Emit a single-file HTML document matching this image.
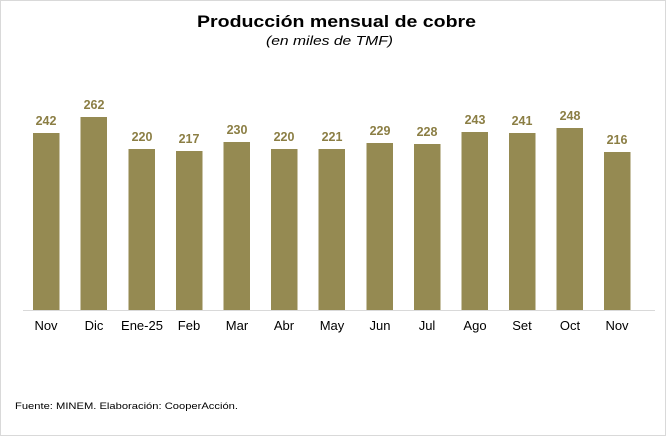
<!DOCTYPE html>
<html><head><meta charset="utf-8"><style>
body{margin:0;background:#fff}
svg text{font-family:"Liberation Sans","DejaVu Sans",sans-serif}
</style></head><body>
<svg width="666" height="436" viewBox="0 0 666 436" xmlns="http://www.w3.org/2000/svg">
<rect x="0.5" y="0.5" width="665" height="435" fill="#fff" stroke="#d9d9d9"/>
<text x="197" y="27" font-size="17" font-weight="bold" fill="#000" textLength="279" lengthAdjust="spacingAndGlyphs">Producción mensual de cobre</text>
<text x="266" y="45" font-size="13" font-style="italic" fill="#000" textLength="127" lengthAdjust="spacingAndGlyphs">(en miles de TMF)</text>
<line x1="23" y1="310.5" x2="655" y2="310.5" stroke="#d9d9d9" stroke-width="1"/>
<g fill="#958a52">
<rect x="33" y="133" width="26.5" height="177"/>
<rect x="80.5" y="117" width="26.5" height="193"/>
<rect x="128.5" y="149" width="26.5" height="161"/>
<rect x="176" y="151" width="26.5" height="159"/>
<rect x="223.5" y="142" width="26.5" height="168"/>
<rect x="271" y="149" width="26.5" height="161"/>
<rect x="318.5" y="149" width="26.5" height="161"/>
<rect x="366.5" y="143" width="26.5" height="167"/>
<rect x="414" y="144" width="26.5" height="166"/>
<rect x="461.5" y="132" width="26.5" height="178"/>
<rect x="509" y="133" width="26.5" height="177"/>
<rect x="556.5" y="128" width="26.5" height="182"/>
<rect x="604" y="152" width="26.5" height="158"/>
</g>
<g fill="#8b7e44" font-size="12.5" font-weight="bold" text-anchor="middle">
<text x="46" y="125">242</text><text x="94" y="109">262</text><text x="142" y="141">220</text>
<text x="189" y="143">217</text><text x="237" y="134">230</text><text x="284" y="141">220</text>
<text x="332" y="141">221</text><text x="380" y="135">229</text><text x="427" y="136">228</text>
<text x="475" y="124">243</text><text x="522" y="125">241</text><text x="570" y="120">248</text>
<text x="617" y="144">216</text>
</g>
<g fill="#000" font-size="13" text-anchor="middle">
<text x="46" y="330">Nov</text><text x="94" y="330">Dic</text><text x="142" y="330">Ene-25</text>
<text x="189" y="330">Feb</text><text x="237" y="330">Mar</text><text x="284" y="330">Abr</text>
<text x="332" y="330">May</text><text x="380" y="330">Jun</text><text x="427" y="330">Jul</text>
<text x="475" y="330">Ago</text><text x="522" y="330">Set</text><text x="570" y="330">Oct</text>
<text x="617" y="330">Nov</text>
</g>
<text x="15" y="409" font-size="9.5" fill="#000" textLength="223" lengthAdjust="spacingAndGlyphs">Fuente: MINEM. Elaboración: CooperAcción.</text>
</svg>
</body></html>
